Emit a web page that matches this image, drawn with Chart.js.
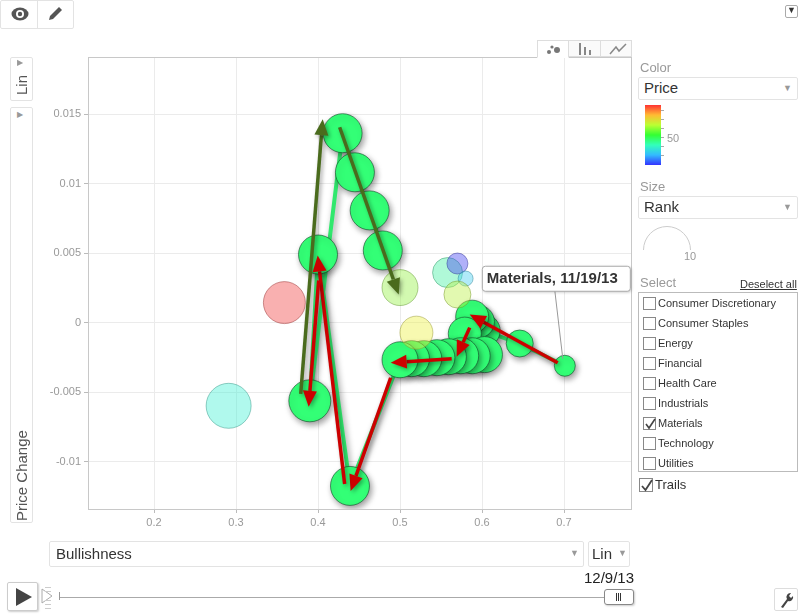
<!DOCTYPE html>
<html>
<head>
<meta charset="utf-8">
<script src="https://cdn.jsdelivr.net/npm/chart.js@4.4.1/dist/chart.umd.min.js"></script>
<style>
  body { margin: 0; width: 805px; height: 615px; position: relative; overflow: hidden; background: #fff;
         font-family: Arial, "Liberation Sans", sans-serif; }
  .abs { position: absolute; }
  .box { position: absolute; border: 1px solid #e3e3e3; border-radius: 2px; background: #fff; box-sizing: border-box; }
  .lbl { position: absolute; color: #999; font-size: 13px; }
  .sel { position: absolute; font-size: 15px; color: #333; }
  .dd { position: absolute; color: #999; font-size: 9px; }
  .item { position: absolute; left: 4px; height: 20px; font-size: 11px; color: #333; line-height: 20px; }
  .cb { display: inline-block; width: 13px; height: 13px; border: 1px solid #888; box-sizing: border-box;
        vertical-align: middle; margin-right: 2px; position: relative; top: -1px; background: #fff; }
  #c { position: absolute; left: 0; top: 0; }
</style>
</head>
<body>
<canvas id="c" width="805" height="615"></canvas>

<!-- top left buttons -->
<div class="box" style="left:0;top:0;width:74px;height:29px;"></div>
<div class="abs" style="left:37px;top:1px;width:1px;height:27px;background:#e3e3e3"></div>
<svg class="abs" style="left:10px;top:6px" width="20" height="16">
  <ellipse cx="10" cy="8" rx="8.5" ry="6.5" fill="#555"/>
  <circle cx="10" cy="8" r="4" fill="#fff"/><circle cx="10" cy="8" r="2.2" fill="#555"/>
</svg>
<svg class="abs" style="left:46px;top:5px" width="20" height="18">
  <path d="M3 15 L4 11 L13 2 L16 5 L7 14 Z" fill="#555"/>
</svg>
<div class="box" style="left:785px;top:5px;width:13px;height:13px;border-color:#aaa"></div>
<div class="abs" style="left:787px;top:5px;font-size:9px;color:#333">&#9660;</div>

<!-- left vertical controls -->
<div class="box" style="left:10px;top:57px;width:23px;height:44px;"></div>
<div class="abs" style="left:17px;top:58px;font-size:8px;color:#999">&#9654;</div>
<div class="abs" style="left:10px;top:95px;width:23px;transform:rotate(-90deg);transform-origin:0 0;font-size:15px;color:#555;line-height:23px;">Lin</div>
<div class="box" style="left:10px;top:107px;width:23px;height:416px;"></div>
<div class="abs" style="left:17px;top:110px;font-size:8px;color:#999">&#9654;</div>
<div class="abs" style="left:10px;top:521px;width:120px;transform:rotate(-90deg);transform-origin:0 0;font-size:15px;color:#555;line-height:23px;white-space:nowrap">Price Change</div>

<!-- chart type tabs -->
<div class="abs" style="left:537px;top:40px;width:32px;height:18px;border:1px solid #ddd;border-bottom:1px solid #fff;background:#fff;box-sizing:border-box"></div>
<div class="abs" style="left:569px;top:40px;width:32px;height:17px;border:1px solid #ddd;border-left:0;background:#fafafa;box-sizing:border-box"></div>
<div class="abs" style="left:601px;top:40px;width:31px;height:17px;border:1px solid #ddd;border-left:0;background:#fafafa;box-sizing:border-box"></div>
<svg class="abs" style="left:545px;top:43px" width="18" height="13">
  <circle cx="4" cy="9" r="2" fill="#777"/><circle cx="7" cy="4" r="1.6" fill="#777"/><circle cx="12" cy="7" r="3" fill="#777"/>
</svg>
<svg class="abs" style="left:577px;top:42px" width="18" height="14">
  <rect x="2" y="1" width="2" height="12" fill="#888"/><rect x="7" y="5" width="2" height="8" fill="#888"/><rect x="12" y="8" width="2" height="5" fill="#888"/>
</svg>
<svg class="abs" style="left:608px;top:42px" width="20" height="14">
  <polyline points="2,12 8,5 11,9 18,2" fill="none" stroke="#888" stroke-width="1.5"/>
</svg>

<!-- right panel -->
<div class="lbl" style="left:640px;top:60px;">Color</div>
<div class="box" style="left:638px;top:77px;width:160px;height:23px;"></div>
<div class="sel" style="left:644px;top:79px;">Price</div>
<div class="dd" style="left:783px;top:83px;">&#9660;</div>
<div class="abs" style="left:645px;top:105px;width:16px;height:60px;background:linear-gradient(to top,hsl(240,100%,60%),hsl(200,100%,60%),hsl(160,100%,60%),hsl(120,100%,60%),hsl(80,100%,60%),hsl(40,100%,60%),hsl(0,100%,60%))"></div>
<svg class="abs" style="left:661px;top:105px" width="6" height="60">
  <g stroke="#aaa" stroke-width="1">
    <line x1="0" y1="5.5" x2="3" y2="5.5"/><line x1="0" y1="14.5" x2="3" y2="14.5"/><line x1="0" y1="23.5" x2="3" y2="23.5"/>
    <line x1="0" y1="32.5" x2="3" y2="32.5"/><line x1="0" y1="41.5" x2="3" y2="41.5"/><line x1="0" y1="50.5" x2="3" y2="50.5"/>
  </g>
</svg>
<div class="abs" style="left:667px;top:132px;font-size:11px;color:#999">50</div>

<div class="lbl" style="left:640px;top:179px;">Size</div>
<div class="box" style="left:638px;top:196px;width:160px;height:23px;"></div>
<div class="sel" style="left:644px;top:198px;">Rank</div>
<div class="dd" style="left:783px;top:202px;">&#9660;</div>
<svg class="abs" style="left:640px;top:220px" width="55" height="32">
  <path d="M3.5 30 A23.5 23.5 0 0 1 50.5 30" fill="none" stroke="#ccc" stroke-width="1"/>
</svg>
<div class="abs" style="left:684px;top:250px;font-size:11px;color:#999">10</div>

<div class="lbl" style="left:640px;top:275px;">Select</div>
<div class="abs" style="left:740px;top:278px;font-size:11px;color:#333;text-decoration:underline">Deselect all</div>
<div class="abs" id="list" style="left:638px;top:292px;width:160px;height:180px;border:1px solid #bbb;box-sizing:border-box"></div>
<div class="abs" style="left:639px;top:477px;font-size:13px;color:#333;line-height:16px">
  <span class="cb" id="trailBox" style="width:14px;height:14px"></span>Trails
</div>

<!-- bottom controls -->
<div class="box" style="left:49px;top:541px;width:535px;height:26px;"></div>
<div class="sel" style="left:56px;top:545px;">Bullishness</div>
<div class="dd" style="left:570px;top:548px;">&#9660;</div>
<div class="box" style="left:588px;top:541px;width:42px;height:26px;"></div>
<div class="sel" style="left:592px;top:545px;">Lin</div>
<div class="dd" style="left:618px;top:548px;">&#9660;</div>

<div class="box" style="left:7px;top:582px;width:31px;height:29px;border-color:#ccc;box-shadow:1px 1px 2px rgba(0,0,0,0.2)"></div>
<svg class="abs" style="left:14px;top:587px" width="20" height="20"><path d="M2 1 L18 10 L2 19 Z" fill="#444"/></svg>
<svg class="abs" style="left:41px;top:585px" width="20" height="25">
  <path d="M1 4 L11 11 L1 18 Z" fill="none" stroke="#aaa"/>
  <g stroke="#ccc"><line x1="4" y1="2.5" x2="10" y2="2.5"/><line x1="4" y1="6.5" x2="10" y2="6.5"/><line x1="4" y1="15.5" x2="10" y2="15.5"/><line x1="4" y1="19.5" x2="10" y2="19.5"/><line x1="4" y1="23.5" x2="10" y2="23.5"/></g>
  <line x1="18.5" y1="7" x2="18.5" y2="15" stroke="#999"/>
</svg>
<div class="abs" style="left:60px;top:597px;width:546px;height:1px;background:#aaa"></div>
<div class="abs" style="left:584px;top:569px;font-size:15px;color:#222">12/9/13</div>
<div class="box" style="left:604px;top:589px;width:30px;height:16px;border:1px solid #888;border-radius:3px;box-shadow:1px 1px 2px rgba(0,0,0,0.2)"></div>
<svg class="abs" style="left:614px;top:593px" width="10" height="8"><g stroke="#333"><line x1="2.5" y1="0" x2="2.5" y2="8"/><line x1="4.5" y1="0" x2="4.5" y2="8"/><line x1="6.5" y1="0" x2="6.5" y2="8"/></g></svg>
<div class="box" style="left:774px;top:588px;width:24px;height:23px;border-color:#ddd"></div>
<svg class="abs" style="left:777px;top:591px" width="18" height="18">
  <path d="M4 16 L10 8 A4 4 0 0 1 14 2 L12 5 L14 7 L16 5 A4 4 0 0 1 11 10 L6 17 Z" fill="#444"/>
</svg>

<script>
// sectors (unselected ones are shown faded)
const sectors = ["Consumer Discretionary", "Consumer Staples", "Energy", "Financial",
  "Health Care", "Industrials", "Materials", "Technology", "Utilities"];
const selected = "Materials";

const otherNames = ["Consumer Discretionary", "Consumer Staples", "Energy", "Financial",
  "Health Care", "Industrials", "Technology", "Utilities"];
const otherBull = [0.359, 0.291, 0.558, 0.570, 0.580, 0.570, 0.520, 0.500];
const otherChange = [0.00144, -0.00598, 0.0036, 0.00425, 0.00317, 0.00202, -0.00072, 0.00252];
const otherPrice = [80, 41, 45, 25, 36, 62, 66, 59];
const otherRank = [10, 11, 6, 3, 1, 5, 7, 8];

// Materials trail, 11/19/13 .. 12/9/13
const trailDates = ["11/19/13", "11/20/13", "11/21/13", "11/22/13", "11/23/13", "11/24/13", "11/25/13",
  "11/26/13", "11/27/13", "11/28/13", "11/29/13", "11/30/13", "12/1/13", "12/2/13", "12/3/13",
  "12/4/13", "12/5/13", "12/6/13", "12/7/13", "12/8/13", "12/9/13"];
const trailBull = [0.701, 0.646, 0.602, 0.595, 0.588, 0.579, 0.603, 0.588, 0.574, 0.559,
  0.545, 0.529, 0.514, 0.500, 0.439, 0.400, 0.390, 0.430, 0.445, 0.463, 0.479];
const trailChange = [-0.0031, -0.0015, -0.00058, 0.00007, 0.00043, -0.00079, -0.0023, -0.00238, -0.00238, -0.00245,
  -0.00252, -0.00259, -0.00259, -0.00267, -0.01174, 0.0049, -0.00562, 0.01362, 0.01081, 0.00807, 0.00519];
const trailRank = [3, 5, 7, 7, 7, 7, 8, 8, 8, 8, 8, 8, 8, 8, 9, 9, 10, 9, 9, 9, 9];
const materialsPrice = 48;

// annotation arrows [fromX, fromY, toX, toY]
const greenArrows = [
  [0.3789, -0.00512, 0.4057, 0.01463],
  [0.4264, 0.01405, 0.4984, 0.00202]
];
const redArrows = [
  [0.6923, -0.00288, 0.5850, 0.00058],
  [0.5850, -0.00036, 0.5691, -0.00245],
  [0.5630, -0.00259, 0.4886, -0.00288],
  [0.4886, -0.00396, 0.4398, -0.0121],
  [0.4325, -0.0116, 0.3996, 0.00483],
  [0.4008, 0.00303, 0.3886, -0.00605]
];

// colour scale for price, radius scale for rank
function priceHue(p) {
  const t = Math.min(1, Math.max(0, (p - 25) / 55));
  return 240 * (1 - t);
}
function rankRadius(r) { return 6 + 1.5 * r; }

// selection list
const list = document.getElementById("list");
sectors.forEach((s, i) => {
  const d = document.createElement("div");
  d.className = "item";
  d.style.top = (i * 20) + "px";
  d.innerHTML = '<span class="cb"></span>' + s;
  if (s === selected) {
    d.querySelector(".cb").innerHTML =
      '<svg width="13" height="13" style="position:absolute;left:0;top:0"><polyline points="2,6 5,10 11,1" fill="none" stroke="#444" stroke-width="1.6"/></svg>';
  }
  list.appendChild(d);
});
document.getElementById("trailBox").innerHTML =
  '<svg width="14" height="14" style="position:absolute;left:0;top:0"><polyline points="2,7 5.5,11 12,1" fill="none" stroke="#444" stroke-width="1.8"/></svg>';

const trailPts = trailBull.map((x, i) => ({ x: x, y: trailChange[i], r: rankRadius(trailRank[i]) }));
const otherPts = otherBull.map((x, i) => ({ x: x, y: otherChange[i], r: rankRadius(otherRank[i]) }));
const matHue = priceHue(materialsPrice);

const shadowPlugin = {
  id: "shadow",
  beforeDatasetDraw(chart, args) {
    const ds = chart.data.datasets[args.index];
    if (ds.shadow) {
      const ctx = chart.ctx;
      ctx.save();
      ctx.shadowColor = "rgba(0,0,0,0.4)";
      ctx.shadowBlur = 6;
      ctx.shadowOffsetX = 2;
      ctx.shadowOffsetY = 3;
    }
  },
  afterDatasetDraw(chart, args) {
    if (chart.data.datasets[args.index].shadow) chart.ctx.restore();
  }
};

const framePlugin = {
  id: "frame",
  beforeDatasetsDraw(chart) {
    const a = chart.chartArea, ctx = chart.ctx;
    ctx.save();
    ctx.strokeStyle = "#c8c8c8";
    ctx.lineWidth = 1;
    ctx.strokeRect(Math.round(a.left) + 0.5, Math.round(a.top) + 0.5,
      Math.round(a.right - a.left), Math.round(a.bottom - a.top));
    ctx.restore();
  }
};

function drawArrow(ctx, xs, ys, a, color) {
  const x0 = xs.getPixelForValue(a[0]), y0 = ys.getPixelForValue(a[1]);
  const x1 = xs.getPixelForValue(a[2]), y1 = ys.getPixelForValue(a[3]);
  const ang = Math.atan2(y1 - y0, x1 - x0);
  const hl = 16, hw = 7;
  const bx = x1 - hl * Math.cos(ang), by = y1 - hl * Math.sin(ang);
  ctx.strokeStyle = color;
  ctx.fillStyle = color;
  ctx.lineWidth = 3.5;
  ctx.beginPath();
  ctx.moveTo(x0, y0);
  ctx.lineTo(bx, by);
  ctx.stroke();
  ctx.beginPath();
  ctx.moveTo(x1, y1);
  ctx.lineTo(bx + hw * Math.sin(ang), by - hw * Math.cos(ang));
  ctx.lineTo(bx - hw * Math.sin(ang), by + hw * Math.cos(ang));
  ctx.closePath();
  ctx.fill();
}

const annotPlugin = {
  id: "annot",
  afterDatasetsDraw(chart) {
    const ctx = chart.ctx, xs = chart.scales.x, ys = chart.scales.y;
    ctx.save();
    ctx.shadowColor = "rgba(0,0,0,0.35)";
    ctx.shadowBlur = 4;
    ctx.shadowOffsetX = 2;
    ctx.shadowOffsetY = 2;
    greenArrows.forEach(a => drawArrow(ctx, xs, ys, a, "#4a6b1d"));
    redArrows.forEach(a => drawArrow(ctx, xs, ys, a, "#cc0000"));
    ctx.restore();

    // hover label on first trail point
    const px = xs.getPixelForValue(trailBull[0]), py = ys.getPixelForValue(trailChange[0]);
    ctx.save();
    ctx.strokeStyle = "#999";
    ctx.lineWidth = 1;
    ctx.beginPath();
    ctx.moveTo(px - 10, py - 75);
    ctx.lineTo(px - 2, py - 7);
    ctx.stroke();
    const bx = px - 83, by = py - 100, bw = 148, bh = 25;
    ctx.shadowColor = "rgba(0,0,0,0.25)";
    ctx.shadowBlur = 3;
    ctx.shadowOffsetX = 1;
    ctx.shadowOffsetY = 1;
    ctx.fillStyle = "#fff";
    ctx.beginPath();
    ctx.roundRect(bx + 0.5, by + 0.5, bw, bh, 3);
    ctx.fill();
    ctx.shadowColor = "transparent";
    ctx.strokeStyle = "#aaa";
    ctx.stroke();
    ctx.fillStyle = "#333";
    ctx.font = "bold 15px Arial, 'Liberation Sans', sans-serif";
    ctx.textBaseline = "middle";
    ctx.fillText(selected + ", " + trailDates[0], bx + 5, by + bh / 2 + 1);
    ctx.restore();
  }
};

const fmt = v => String(Number(v.toFixed(4)));

new Chart(document.getElementById("c"), {
  type: "bubble",
  data: {
    datasets: [
      {
        label: "others",
        data: otherPts,
        order: 0,
        backgroundColor: otherPrice.map(p => `hsla(${priceHue(p)},85%,60%,0.42)`),
        borderColor: otherPrice.map(p => `hsla(${priceHue(p)},60%,35%,0.45)`),
        borderWidth: 1
      },
      {
        label: selected,
        data: trailPts,
        order: 1,
        shadow: true,
        backgroundColor: `hsl(${matHue},100%,60%)`,
        borderColor: "rgba(20,70,40,0.6)",
        borderWidth: 1
      },
      {
        type: "line",
        label: "trail",
        data: trailPts.map(p => ({ x: p.x, y: p.y })),
        order: 2,
        shadow: true,
        borderColor: `hsl(${matHue},80%,55%)`,
        borderWidth: 4,
        pointRadius: 0,
        fill: false,
        tension: 0
      }
    ]
  },
  options: {
    responsive: false,
    animation: false,
    events: [],
    layout: { padding: { left: 38, top: 57, right: 174, bottom: 76 } },
    plugins: { legend: { display: false }, tooltip: { enabled: false } },
    scales: {
      x: {
        type: "linear",
        min: 0.1195,
        max: 0.7817,
        afterFit: s => { s.height = 30; },
        grid: { color: "#ebebeb", tickColor: "#bbb", tickLength: 4 },
        border: { color: "#c8c8c8" },
        ticks: { stepSize: 0.1, includeBounds: false, color: "#999", padding: 3,
          font: { size: 11, family: "Arial, 'Liberation Sans', sans-serif" }, callback: fmt }
      },
      y: {
        type: "linear",
        min: -0.0134,
        max: 0.0191,
        afterFit: s => { s.width = 50; },
        grid: { color: "#ebebeb", tickColor: "#bbb", tickLength: 4 },
        border: { color: "#c8c8c8" },
        ticks: { stepSize: 0.005, includeBounds: false, color: "#999", padding: 3,
          font: { size: 11, family: "Arial, 'Liberation Sans', sans-serif" }, callback: fmt }
      }
    }
  },
  plugins: [shadowPlugin, framePlugin, annotPlugin]
});
</script>
</body>
</html>
